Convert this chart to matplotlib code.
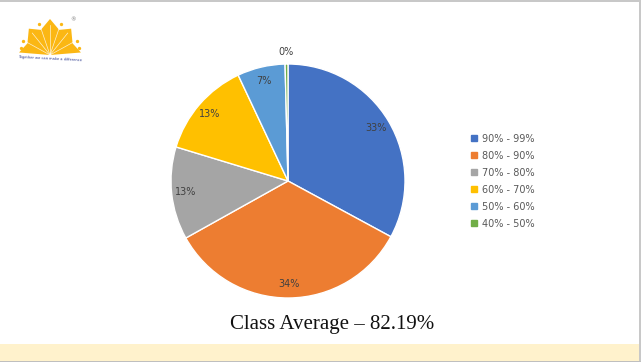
import numpy as np
import matplotlib
matplotlib.use('Agg')
import matplotlib.pyplot as plt
from matplotlib.patches import Rectangle, Polygon
from matplotlib.lines import Line2D

# ---------------------------------------------------------------------------
# Data (share of students per score band, %)
# ---------------------------------------------------------------------------
bands = ["90% - 99%", "80% - 90%", "70% - 80%", "60% - 70%", "50% - 60%", "40% - 50%"]
shares = [32.9, 34.0, 12.8, 13.3, 6.6, 0.4]
colors = ["#4472C4", "#ED7D31", "#A5A5A5", "#FFC000", "#5B9BD5", "#70AD47"]
title = "Class Average \u2013 82.19%"

W, H = 641, 362
fig = plt.figure(figsize=(W / 100, H / 100), dpi=100)


def px_axes(x0, y0, x1, y1):
    # axes from pixel box (top-left origin)
    return fig.add_axes([x0 / W, 1 - y1 / H, (x1 - x0) / W, (y1 - y0) / H])


# ---------------------------------------------------------------------------
# Frame: top/right border and bottom band
# ---------------------------------------------------------------------------
bg = px_axes(0, 0, W, H)
bg.set_xlim(0, W)
bg.set_ylim(H, 0)
bg.axis('off')
bg.add_patch(Rectangle((0, 343.5), W, 17, color="#FFF2CC", lw=0))
bg.add_patch(Rectangle((0, 360.5), W, 2, color="#BFBFBF", lw=0))
bg.add_patch(Rectangle((0, 0), W, 1.5, color="#C8C8C8", lw=0))
bg.add_patch(Rectangle((638.5, 0), 3, 361, color="#C8C8C8", lw=0))

# ---------------------------------------------------------------------------
# Logo (simplified yellow fan)
# ---------------------------------------------------------------------------
lg = px_axes(12, 8, 92, 66)
lg.set_xlim(12, 92)
lg.set_ylim(66, 8)
lg.axis('off')
cx, cy = 50, 55
tip_angs = np.radians([176, 133, 90, 47, 4])
notch_angs = (tip_angs[:-1] + tip_angs[1:]) / 2
pts = [(cx, cy)]
for i, a in enumerate(tip_angs):
    pts.append((cx + 31 * np.cos(a), cy - 36 * np.sin(a)))
    if i < len(notch_angs):
        b = notch_angs[i]
        pts.append((cx + 25 * np.cos(b), cy - 27 * np.sin(b)))
lg.add_patch(Polygon(pts, closed=True, color="#FBB714", lw=0))
for a in np.concatenate([tip_angs[1:-1], notch_angs]):
    lg.plot([cx, cx + 26 * np.cos(a)], [cy, cy - 30 * np.sin(a)],
            color="white", lw=0.5, alpha=0.8)
for a in np.concatenate([notch_angs, np.radians([168, 12])]):
    lg.plot(cx + 30 * np.cos(a), cy - 33 * np.sin(a), 'o',
            color="#FBB714", ms=2.4, mec='none')
lg.text(73, 20, "\u00ae", fontsize=4, color="#777777", ha='center', va='center')
lg.text(50, 59, "Together we can make a difference", fontsize=2.6,
        color="#2F3C8F", ha='center', va='center', rotation=-3)

# ---------------------------------------------------------------------------
# Pie
# ---------------------------------------------------------------------------
ax = px_axes(171, 64, 405, 298)
wedges, texts, autotexts = ax.pie(
    shares, colors=colors, startangle=90, counterclock=False,
    autopct='%1.0f%%', pctdistance=0.88,
    wedgeprops=dict(edgecolor='white', linewidth=1.0),
    textprops=dict(fontsize=7, color="#404040"))
ax.set_xlim(-1, 1)
ax.set_ylim(-1, 1)
ax.set_aspect('equal')

# smallest slice label sits outside the pie
w = wedges[-1]
mid = np.radians((w.theta1 + w.theta2) / 2)
autotexts[-1].set_position((1.1 * np.cos(mid), 1.1 * np.sin(mid)))

# ---------------------------------------------------------------------------
# Legend
# ---------------------------------------------------------------------------
handles = [Line2D([], [], marker='s', ls='none', color=c, ms=4.5) for c in colors]
fig.legend(handles, bands, loc='upper left',
           bbox_to_anchor=(466 / W, 1 - 129 / H), frameon=False,
           fontsize=7, labelcolor="#595959", handlelength=0.6,
           handletextpad=0.5, labelspacing=0.72, borderpad=0)

fig.text(332 / W, 1 - 324 / H, title, fontsize=15, family='Liberation Serif',
         ha='center', va='center', color="#111111")

fig.savefig('out.png', dpi=100)
